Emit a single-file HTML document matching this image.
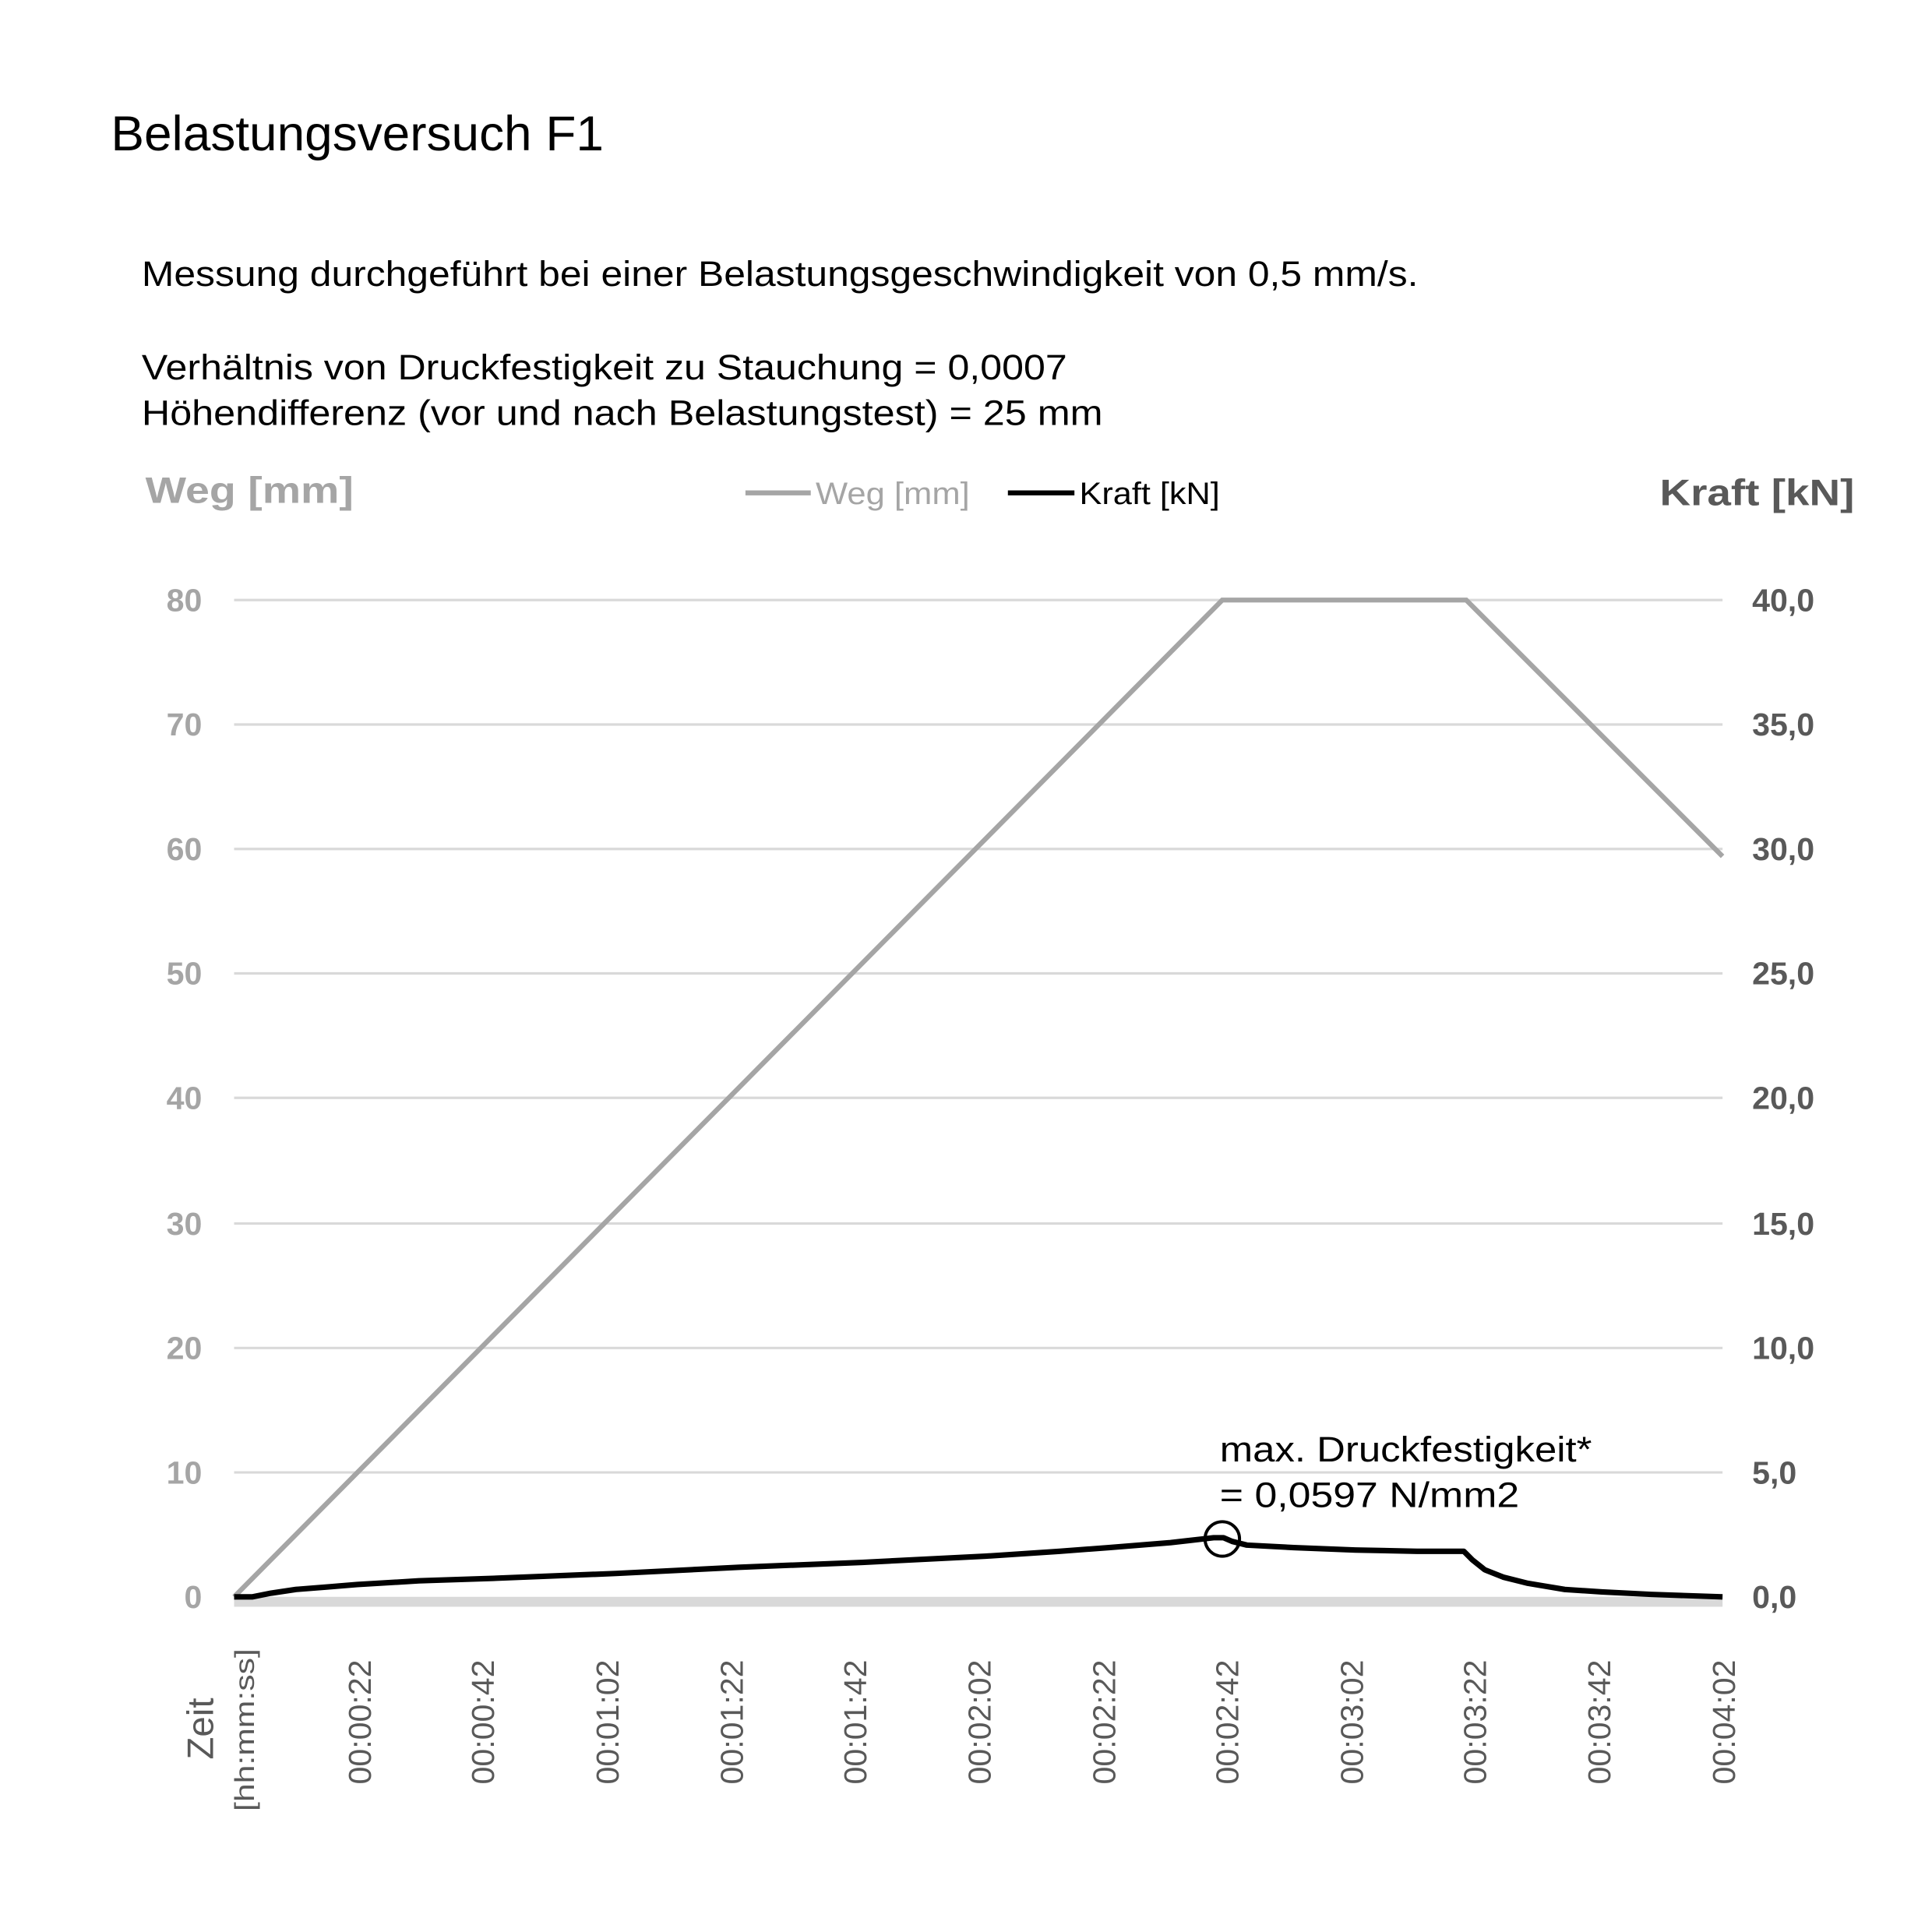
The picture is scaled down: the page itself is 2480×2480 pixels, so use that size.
<!DOCTYPE html>
<html><head><meta charset="utf-8"><style>html,body{margin:0;padding:0;background:#fff}svg{display:block}</style></head>
<body>
<svg width="2480" height="2480" viewBox="0 0 1568 1568" xmlns="http://www.w3.org/2000/svg" font-family="'Liberation Sans', 'DejaVu Sans', sans-serif">
<rect width="1568" height="1568" fill="#fff"/>
<text x="90" y="122" font-size="40" fill="#000" textLength="400" lengthAdjust="spacingAndGlyphs">Belastungsversuch F1</text>
<text x="115" y="232" font-size="29" fill="#000" textLength="1036" lengthAdjust="spacingAndGlyphs">Messung durchgeführt bei einer Belastungsgeschwindigkeit von 0,5 mm/s.</text>
<text x="115" y="308" font-size="29" fill="#000" textLength="751" lengthAdjust="spacingAndGlyphs">Verhältnis von Druckfestigkeit zu Stauchung = 0,0007</text>
<text x="115" y="345" font-size="29" fill="#000" textLength="780" lengthAdjust="spacingAndGlyphs">Höhendifferenz (vor und nach Belastungstest) = 25 mm</text>
<text x="118" y="408" font-size="30" font-weight="bold" fill="#a5a5a5" textLength="169" lengthAdjust="spacingAndGlyphs">Weg [mm]</text>
<text x="1347" y="410" font-size="30" font-weight="bold" fill="#595959" textLength="158" lengthAdjust="spacingAndGlyphs">Kraft [kN]</text>
<line x1="605" y1="400" x2="658" y2="400" stroke="#a5a5a5" stroke-width="4"/>
<text x="662" y="409" font-size="25" fill="#a5a5a5" textLength="125" lengthAdjust="spacingAndGlyphs">Weg [mm]</text>
<line x1="818" y1="400" x2="872" y2="400" stroke="#000" stroke-width="4"/>
<text x="876" y="409" font-size="25" fill="#000" textLength="114" lengthAdjust="spacingAndGlyphs">Kraft [kN]</text>
<g stroke="#d9d9d9" stroke-width="2">
<line x1="190" y1="487" x2="1398" y2="487"/><line x1="190" y1="588" x2="1398" y2="588"/>
<line x1="190" y1="689" x2="1398" y2="689"/><line x1="190" y1="790" x2="1398" y2="790"/>
<line x1="190" y1="891" x2="1398" y2="891"/><line x1="190" y1="993" x2="1398" y2="993"/>
<line x1="190" y1="1094" x2="1398" y2="1094"/><line x1="190" y1="1195" x2="1398" y2="1195"/>
</g>
<line x1="190" y1="1300" x2="1398" y2="1300" stroke="#d9d9d9" stroke-width="8"/>
<g font-size="26" font-weight="bold" fill="#a5a5a5" text-anchor="end">
<text x="164" y="496">80</text><text x="164" y="597">70</text><text x="164" y="698">60</text><text x="164" y="799">50</text>
<text x="164" y="900">40</text><text x="164" y="1002">30</text><text x="164" y="1103">20</text><text x="164" y="1204">10</text><text x="164" y="1305">0</text>
</g>
<g font-size="26" font-weight="bold" fill="#595959">
<text x="1422" y="496">40,0</text><text x="1422" y="597">35,0</text><text x="1422" y="698">30,0</text><text x="1422" y="799">25,0</text>
<text x="1422" y="900">20,0</text><text x="1422" y="1002">15,0</text><text x="1422" y="1103">10,0</text><text x="1422" y="1204">5,0</text><text x="1422" y="1305">0,0</text>
</g>
<polyline points="190,1296 992,487 1190,487 1398,695" fill="none" stroke="#a5a5a5" stroke-width="4"/>
<polyline points="190,1296 205,1296 220,1293 240,1290 265,1288 290,1286 340,1283 400,1281 500,1277 600,1272 700,1268 800,1263 860,1259 900,1256 950,1252 985,1248 993,1248 1000,1251 1012,1254 1050,1256 1100,1258 1150,1259 1188,1259 1195,1266 1205,1274 1220,1280 1240,1285 1270,1290 1300,1292 1340,1294 1398,1296" fill="none" stroke="#000" stroke-width="4.5" stroke-linejoin="round"/>
<circle cx="992" cy="1249" r="14" fill="none" stroke="#000" stroke-width="2.5"/>
<text x="990" y="1186" font-size="29" fill="#000" textLength="302" lengthAdjust="spacingAndGlyphs">max. Druckfestigkeit*</text>
<text x="990" y="1223" font-size="29" fill="#000" textLength="243" lengthAdjust="spacingAndGlyphs">= 0,0597 N/mm2</text>
<g font-size="26" fill="#595959" text-anchor="end">
<text transform="translate(301,1347) rotate(-90)">00:00:22</text>
<text transform="translate(401,1347) rotate(-90)">00:00:42</text>
<text transform="translate(502,1347) rotate(-90)">00:01:02</text>
<text transform="translate(603,1347) rotate(-90)">00:01:22</text>
<text transform="translate(703,1347) rotate(-90)">00:01:42</text>
<text transform="translate(804,1347) rotate(-90)">00:02:02</text>
<text transform="translate(905,1347) rotate(-90)">00:02:22</text>
<text transform="translate(1005,1347) rotate(-90)">00:02:42</text>
<text transform="translate(1106,1347) rotate(-90)">00:03:02</text>
<text transform="translate(1206,1347) rotate(-90)">00:03:22</text>
<text transform="translate(1307,1347) rotate(-90)">00:03:42</text>
<text transform="translate(1408,1347) rotate(-90)">00:04:02</text>
<text transform="translate(173,1378) rotate(-90)" font-size="30">Zeit</text>
<text transform="translate(206,1338) rotate(-90)" font-size="22" textLength="132" lengthAdjust="spacingAndGlyphs">[hh:mm:ss]</text>
</g>
</svg>
</body></html>
